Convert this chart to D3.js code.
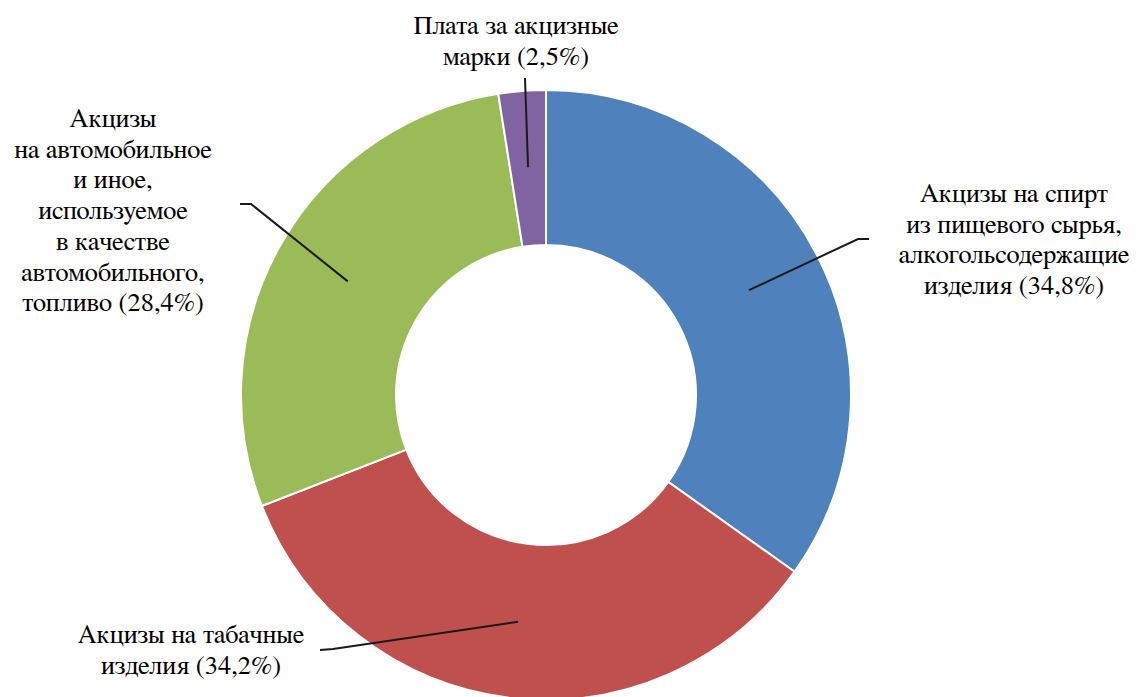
<!DOCTYPE html>
<meta charset="utf-8">
<body style="margin:0">
<script src="https://cdn.jsdelivr.net/npm/d3@7"></script>
<script>

// data
var categories = [
  "Акцизы на спирт из пищевого сырья, алкогольсодержащие изделия",
  "Акцизы на табачные изделия",
  "Акцизы на автомобильное и иное, используемое в качестве автомобильного, топливо",
  "Плата за акцизные марки"
];
var shares = [34.8, 34.2, 28.4, 2.5];
var labelLines = [
  ["Акцизы на спирт", "из пищевого сырья,", "алкогольсодержащие", "изделия (34,8%)"],
  ["Акцизы на табачные", "изделия (34,2%)"],
  ["Акцизы", "на автомобильное", "и иное,", "используемое", "в качестве", "автомобильного,", "топливо (28,4%)"],
  ["Плата за акцизные", "марки (2,5%)"]
];
var colors = ["#4F81BD", "#C0504D", "#9BBB59", "#8064A2"];

// layout
var width = 1137, height = 697,
    cx = 546, cy = 395,
    outerR = 305, innerR = 150,
    lineH = 30.7;

// label block: x center, first baseline, leader elbow and end points
var labelLayout = [
  {x: 1014, y: 202, elbow: [858, 239], end: [869, 239]},
  {x: 191, y: 643, elbow: [333, 649], end: [320, 650]},
  {x: 113, y: 127, elbow: [251, 204], end: [240, 204]},
  {x: 516, y: 34, elbow: null, end: [525, 78]}
];

var svg = d3.select("body").append("svg")
    .attr("width", width)
    .attr("height", height);

var g = svg.append("g")
    .attr("transform", "translate(" + cx + "," + cy + ")");

var pie = d3.pie().sort(null).value(function(d) { return d; });
var arc = d3.arc().innerRadius(innerR).outerRadius(outerR);
var midArc = d3.arc().innerRadius((innerR + outerR) / 2 + 1).outerRadius((innerR + outerR) / 2 + 1);

var arcs = pie(shares);

g.selectAll("path")
    .data(arcs)
  .enter().append("path")
    .attr("d", arc)
    .style("fill", function(d, i) { return colors[i]; })
    .style("stroke", "#fff")
    .style("stroke-width", "2px")
  .append("title")
    .text(function(d, i) { return categories[i]; });

var line = d3.line();

svg.selectAll("path.leader")
    .data(arcs)
  .enter().append("path")
    .attr("class", "leader")
    .style("fill", "none")
    .style("stroke", "#1a1a1a")
    .style("stroke-width", "2px")
    .attr("d", function(d, i) {
      var c = midArc.centroid(d), L = labelLayout[i];
      var pts = [[cx + c[0], cy + c[1]]];
      if (L.elbow) pts.push(L.elbow);
      pts.push(L.end);
      return line(pts);
    });

// one text element per line, centred by measuring it
var rows = [];
labelLines.forEach(function(lines, i) {
  lines.forEach(function(t, j) {
    rows.push({text: t, x: labelLayout[i].x, y: labelLayout[i].y + j * lineH});
  });
});

svg.selectAll("text")
    .data(rows)
  .enter().append("text")
    .attr("x", function(d) { return d.x; })
    .attr("y", function(d) { return d.y; })
    .style("font-family", "FreeSerif, 'Liberation Serif', Tinos, 'Times New Roman'")
    .style("font-size", "26.5px")
    .text(function(d) { return d.text; })
    .attr("x", function(d) { return d.x - this.getComputedTextLength() / 2; });

</script>
